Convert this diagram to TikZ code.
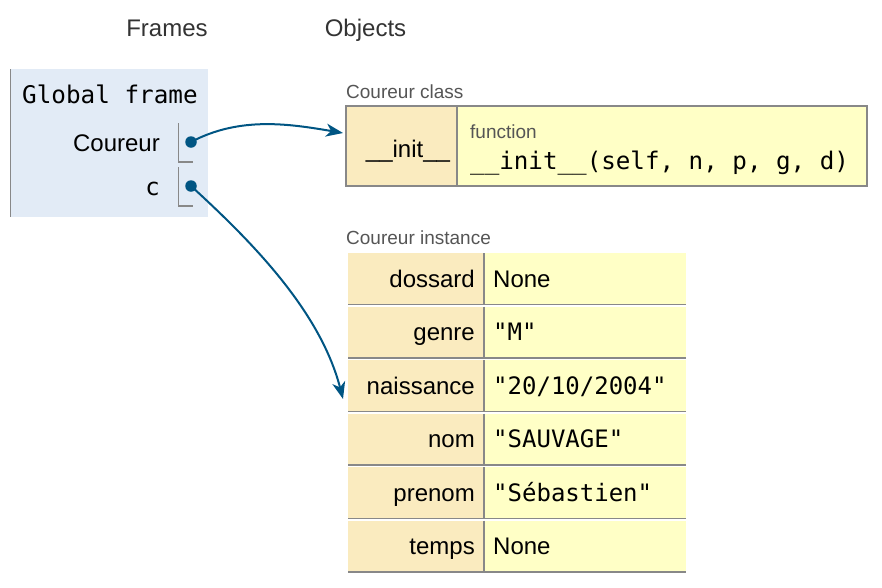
\documentclass[tikz,border=0pt]{standalone}
\usepackage{fontspec}
\setmainfont{Liberation Sans}
\newfontfamily\monof{DejaVu Sans Mono}
\usetikzlibrary{arrows.meta}
\definecolor{ptr}{HTML}{005583}
\definecolor{framebg}{HTML}{E2EBF6}
\definecolor{keybg}{HTML}{FAEBBF}
\definecolor{valbg}{HTML}{FFFFC6}
\definecolor{bord}{HTML}{888888}
\definecolor{lbl}{HTML}{555555}
\definecolor{hdr}{HTML}{333333}
\newcommand\instrow[4]{%
  \fill[keybg] (348,#1) rectangle (483.5,#1+51);
  \fill[valbg] (485,#1) rectangle (686,#1+51);
  \draw[bord,line width=1.5pt] (348,#1+51.5) -- (686,#1+51.5);
  \draw[bord,line width=1.5pt] (484,#1) -- (484,#1+51.5);
  \node[txt,anchor=base east] (k#4) at (475,#1+34) {#2};
  \node[txt,anchor=base west] (v#4) at (493,#1+34) {#3};
}
\begin{document}
\begin{tikzpicture}[x=1pt,y=-1pt,
  txt/.style={font=\fontsize{24}{28}\selectfont, inner sep=0pt, text=black},
  small/.style={font=\fontsize{19}{22}\selectfont, inner sep=0pt, text=lbl, anchor=base west},
  ptrline/.style={ptr, line width=2pt, -{Stealth[length=17pt,width=13pt,inset=5pt]}},
  dot/.style={circle, fill=ptr, inner sep=0pt, minimum size=11.5pt},
  bracket/.style={bord, line width=1.2pt}]
\useasboundingbox (0,0) rectangle (882,587);

% headers
\node[txt, text=hdr, anchor=base] (hframes) at (167,36) {Frames};
\node[txt, text=hdr, anchor=base] (hobjects) at (365.5,36) {Objects};

% global frame
\fill[framebg] (10,69) rectangle (208,217);
\draw[bord, line width=1.5pt] (10.5,69) -- (10.5,217);
\node[txt, anchor=base west] (gf) at (22,103) {\fontsize{24.3}{28}\monof Global frame};
\node[txt, anchor=base east] (vcour) at (160,151) {Coureur};
\node[txt, anchor=base east] (vc) at (160,195) {\monof c};
\draw[bracket] (178.5,123) -- (178.5,162) -- (193,162);
\draw[bracket] (178.5,167) -- (178.5,206) -- (193,206);
\node[dot] (d1) at (191,142) {};
\node[dot] (d2) at (191,186) {};

% class
\node[small] (lclass) at (346,98) {Coureur class};
\fill[keybg] (346,106) rectangle (457,186);
\fill[valbg] (457,106) rectangle (867,186);
\draw[bord, line width=1.5pt] (346,106) rectangle (867,186);
\draw[bord, line width=1.5pt] (457,106) -- (457,186);
\node[txt, anchor=base] (kinit) at (408,157) {\_\_init\_\_};
\node[small] (lfunc) at (470,138) {function};
\node[txt, anchor=base west] (finit) at (470,169) {\fontsize{24.2}{28}\monof \_\_init\_\_(self, n, p, g, d)};

% instance
\node[small] (linst) at (346,244) {Coureur instance};
\instrow{253}{dossard}{None}{1}
\instrow{306.5}{genre}{\monof "M"}{2}
\instrow{360}{naissance}{\monof "20/10/2004"}{3}
\instrow{413.5}{nom}{\monof "SAUVAGE"}{4}
\instrow{467}{prenom}{\monof "Sébastien"}{5}
\instrow{520.5}{temps}{None}{6}

% pointers
\coordinate (a1) at (343,133);
\coordinate (a2) at (343,399);
\draw[ptrline] (d1.center) .. controls (240,116) and (290,124) .. (a1);
\draw[ptrline] (d2.center) .. controls (250,240) and (320,310) .. (a2);
\end{tikzpicture}
\end{document}
